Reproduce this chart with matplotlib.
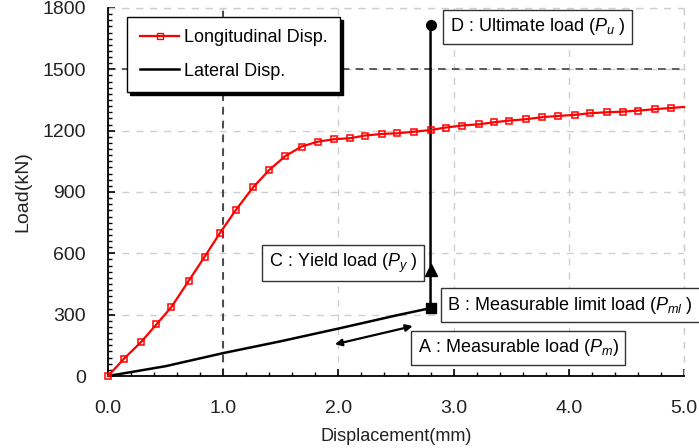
import numpy as np
import matplotlib
matplotlib.use('Agg')
import matplotlib.pyplot as plt
from matplotlib.ticker import MultipleLocator, FormatStrFormatter

plt.rcParams['font.family'] = ['Liberation Sans', 'DejaVu Sans']
plt.rcParams['mathtext.fontset'] = 'custom'
plt.rcParams['mathtext.rm'] = 'Liberation Sans'
plt.rcParams['mathtext.it'] = 'Liberation Sans:italic'

# longitudinal displacement curve
long_x = [0.0, 0.14, 0.29, 0.42, 0.55, 0.70, 0.84, 0.97, 1.11, 1.26, 1.40, 1.54,
          1.68, 1.82, 1.96, 2.10, 2.23, 2.38, 2.51, 2.66, 2.80, 2.93, 3.07, 3.22,
          3.35, 3.48, 3.63, 3.77, 3.91, 4.05, 4.18, 4.33, 4.47, 4.60, 4.75, 4.89]
long_y = [0, 85, 168, 252, 337, 465, 584, 698, 812, 923, 1008, 1076,
          1122, 1146, 1158, 1163, 1176, 1184, 1187, 1195, 1203, 1215, 1225, 1231,
          1241, 1249, 1256, 1266, 1272, 1277, 1285, 1290, 1293, 1298, 1305, 1311]
long_end = (5.0, 1316)

# lateral displacement curve
lat_x = [0.0, 0.5, 1.0, 1.5, 2.0, 2.5, 2.8, 2.8]
lat_y = [0, 48, 112, 170, 232, 296, 332, 1715]

# characteristic points
pt_B = (2.8, 332)
pt_C = (2.8, 520)
pt_D = (2.8, 1715)
arrow_A = ((1.97, 155), (2.645, 244))

fig = plt.figure(figsize=(6.99, 4.48), dpi=100)
ax = fig.add_axes([0.1545, 0.1607, 0.824, 0.8215])

ax.set_xlim(0, 5)
ax.set_ylim(0, 1800)
ax.xaxis.set_major_locator(MultipleLocator(1.0))
ax.xaxis.set_minor_locator(MultipleLocator(0.2))
ax.yaxis.set_major_locator(MultipleLocator(300))
ax.yaxis.set_minor_locator(MultipleLocator(30))
ax.xaxis.set_major_formatter(FormatStrFormatter('%.1f'))
ax.tick_params(which='major', direction='in', length=5, width=1.2, labelsize=14,
               labelcolor='#222222')
ax.tick_params(axis='x', which='major', pad=17)
ax.tick_params(axis='y', which='major', pad=16)
ax.tick_params(which='minor', direction='in', length=3, width=1)
ax.tick_params(top=False, right=False, which='both')

for s in ['top', 'right']:
    ax.spines[s].set_visible(False)
for s in ['left', 'bottom']:
    ax.spines[s].set_linewidth(1.3)

ax.grid(True, which='major', color='#cfcfcf', linestyle=(0, (5, 5)), linewidth=1)
ax.axhline(1800, color='#cfcfcf', linestyle=(0, (5, 5)), linewidth=1, clip_on=False)
ax.axvline(5.0, color='#cfcfcf', linestyle=(0, (5, 5)), linewidth=1, clip_on=False)

# reference dashed lines
ax.axvline(1.0, color='#222222', linestyle=(0, (5, 4)), linewidth=1.1, zorder=2)
ax.axhline(1500, color='#333333', linestyle=(0, (5, 4)), linewidth=1.1, zorder=2)

ax.plot(long_x + [long_end[0]], long_y + [long_end[1]], color='red', linewidth=1.6,
        zorder=4, clip_on=False)
ax.plot(long_x, long_y, linestyle='none', marker='s', markersize=5, markerfacecolor='none',
        markeredgecolor='red', markeredgewidth=1.1, zorder=5, clip_on=False)
ax.plot([], [], color='red', linewidth=1.6, marker='s', markersize=5,
        markerfacecolor='none', label='Longitudinal Disp.')

ax.plot(lat_x, lat_y, color='black', linewidth=1.8, zorder=3, label='Lateral Disp.')
ax.plot(*pt_B, marker='s', markersize=7, color='black', zorder=6)
ax.plot(*pt_C, marker='^', markersize=8, color='black', zorder=6)
ax.plot(*pt_D, marker='o', markersize=7, color='black', zorder=6)

ax.annotate('', xy=arrow_A[1], xytext=arrow_A[0],
            arrowprops=dict(arrowstyle='<|-|>', color='black', lw=1.6,
                            mutation_scale=10, shrinkA=0, shrinkB=0))

box = dict(boxstyle='square,pad=0.36', facecolor='white', edgecolor='#333333', linewidth=1)
fs = 13
ax.text(2.965, 1707, 'D : Ultimate load ($P_u$ )', fontsize=fs, va='center', ha='left',
        bbox=box, zorder=7)
ax.text(1.395, 553, 'C : Yield load ($P_y$ )', fontsize=fs, va='center', ha='left',
        bbox=box, zorder=7)
ax.text(2.945, 345, 'B : Measurable limit load ($P_{ml}$ )', fontsize=fs, va='center',
        ha='left', bbox=box, zorder=7, clip_on=False)
ax.text(2.69, 139, 'A : Measurable load ($P_m$)', fontsize=fs, va='center', ha='left',
        bbox=box, zorder=7)

leg = ax.legend(loc='upper left', bbox_to_anchor=(0.033, 0.976), fontsize=13,
                frameon=True, fancybox=False, edgecolor='black', framealpha=1,
                shadow={'color': 'black', 'alpha': 1}, borderpad=0.7,
                labelspacing=0.9, handlelength=2.2, handletextpad=0.25,
                borderaxespad=0)
leg.get_frame().set_linewidth(1.0)
leg.set_zorder(8)

ax.set_xlabel('Displacement(mm)', fontsize=13, color='#222222', labelpad=8)
ax.set_ylabel('Load(kN)', fontsize=14, color='#222222', labelpad=8)

fig.savefig('out.png', dpi=100)
